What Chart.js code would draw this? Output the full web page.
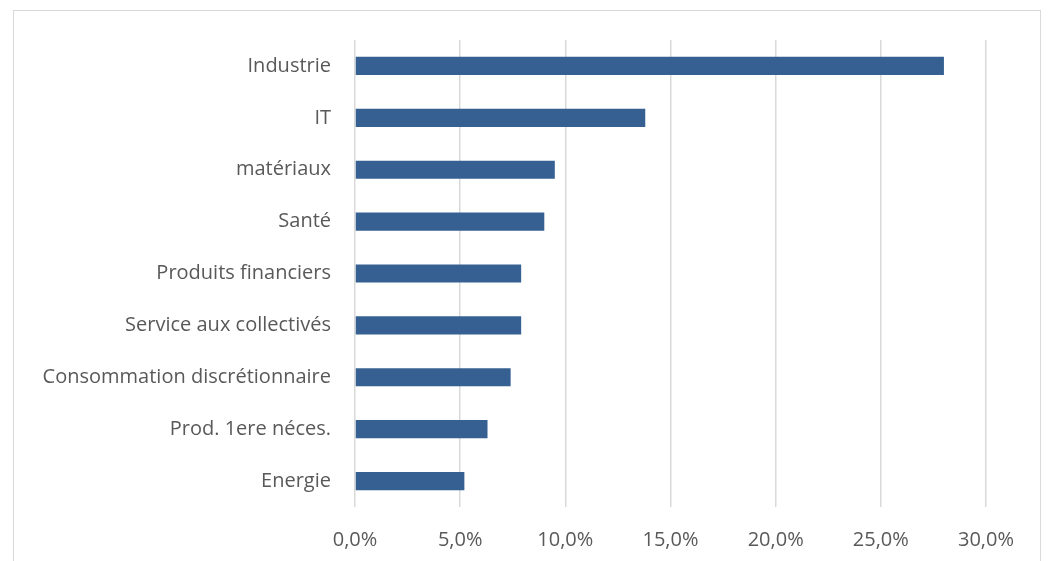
<!DOCTYPE html>
<html>
<head>
<meta charset="utf-8">
<script src="https://cdn.jsdelivr.net/npm/chart.js@4"></script>
<style>
  html, body { margin: 0; padding: 0; background: #fff; }
  #wrap { width: 1049px; height: 561px; }
</style>
</head>
<body>
<div id="wrap"><canvas id="myChart" width="1049" height="561"></canvas></div>
<script>
var sectors = ['Industrie', 'IT', 'matériaux', 'Santé', 'Produits financiers',
  'Service aux collectivés', 'Consommation discrétionnaire', 'Prod. 1ere néces.', 'Energie'];
var weights = [28.0, 13.8, 9.5, 9.0, 7.9, 7.9, 7.4, 6.3, 5.2];
var xTicks = [0, 5, 10, 15, 20, 25, 30];

// thin grey frame round the whole chart, like the office export
var framePlugin = {
  id: 'frame',
  beforeDraw: function(c) {
    var ctx = c.ctx;
    ctx.save();
    ctx.fillStyle = '#fff';
    ctx.fillRect(0, 0, c.width, c.height);
    ctx.strokeStyle = '#d9d9d9';
    ctx.lineWidth = 1;
    ctx.strokeRect(13.5, 10.5, 1027, 580);
    ctx.restore();
  }
};

var chart;
window.addEventListener("load", function(){
  var ctx = document.getElementById('myChart').getContext('2d');
  chart = new Chart(ctx, {
    type: 'bar',
    data: {
      labels: sectors,
      datasets: [{
        data: weights,
        backgroundColor: '#376092',
        borderWidth: 0,
        categoryPercentage: 1,
        barPercentage: 0.35
      }]
    },
    options: {
      indexAxis: 'y',
      responsive: false,
      animation: false,
      layout: { padding: { left: 15, right: 63, top: 40, bottom: 0 } },
      plugins: { legend: { display: false }, tooltip: { enabled: false } },
      scales: {
        x: {
          min: 0,
          max: 30,
          afterBuildTicks: function(s) {
            s.ticks = xTicks.map(function(v){ return { value: v }; });
          },
          afterFit: function(s) { s.height = 54; },
          grid: { color: '#d9d9d9', lineWidth: 1.5, drawTicks: false },
          border: { display: false },
          ticks: {
            padding: 21,
            color: '#595959',
            font: { family: 'Open Sans', size: 20 },
            callback: function(v) { return v.toFixed(1).replace('.', ',') + '%'; }
          }
        },
        y: {
          afterFit: function(s) { s.width = 340; },
          grid: { display: false, drawTicks: false },
          border: { display: false },
          ticks: {
            padding: 24,
            color: '#595959',
            font: { family: 'Open Sans', size: 20 }
          }
        }
      }
    },
    plugins: [framePlugin]
  });
});
</script>
</body>
</html>
